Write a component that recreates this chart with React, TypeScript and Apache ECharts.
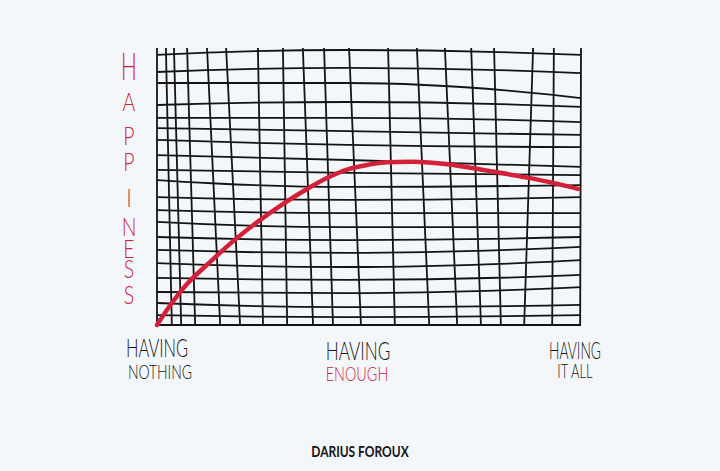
import React, { useEffect, useRef } from "react";
import * as echarts from "echarts";

// Hand-drawn grid: horizontal lines (y at left edge, middle, right edge)
const hLeft = [98.2, 92.0, 88.0, 80.0, 75.3, 71.6, 67.3, 61.8, 56.4, 52.7, 46.5, 41.8, 37.5, 32.0, 27.3, 22.5, 17.1, 12.0, 8.0, 3.6, 0];
const hMid = [100, 93.5, 88.0, 81.1, 75.3, 70.5, 65.5, 60.0, 55.3, 50.2, 45.5, 40.7, 35.6, 30.9, 26.2, 21.1, 16.4, 11.6, 6.5, 2.9, 0];
const hRight = [98.2, 91.6, 82.5, 79.3, 73.8, 69.1, 64.7, 57.5, 54.5, 50.9, 46.5, 40.7, 35.6, 32.0, 28.4, 23.6, 18.2, 13.8, 7.3, 3.6, 0];
const hXs = [0, 45, 100];

// Vertical lines (x at top, x at bottom)
const vTop = [0, 2.1, 4.0, 7.1, 11.8, 16.3, 23.8, 29.7, 34.4, 39.4, 45.3, 54.5, 61.3, 67.9, 74.1, 79.5, 88.7, 93.6, 100];
const vBottom = [0, 3.5, 5.7, 9.0, 14.9, 19.6, 25.0, 30.7, 36.8, 41.5, 48.1, 56.1, 64.2, 70.8, 76.4, 81.1, 86.6, 93.2, 99.8];
const vTopY = 100.7;

// Happiness curve
const curveX = [0, 3.5, 7.3, 13.0, 17.9, 23.8, 29.5, 34.9, 40.3, 45.0, 50.2, 54.2, 60.4, 67.5, 73.8, 79.2, 87.3, 93.4, 99.3];
const curveY = [0, 8.0, 15.3, 23.6, 30.4, 37.6, 43.8, 49.0, 53.6, 56.6, 58.4, 59.2, 59.4, 58.6, 57.2, 55.8, 53.6, 51.7, 49.5];

// Texts
const yTitleLetters = ["H", "A", "P", "P", "I", "N", "E", "S", "S"];
const yTitleCenters = [66, 101, 135, 161, 197, 226, 248, 268, 294];
const credit = "DARIUS FOROUX";

const BG = "#f4f7fa";
const RED = "#d3213a";
const INK = "#141414";
const FONT = "Lato, 'Open Sans', sans-serif";

export default function App() {
  const ref = useRef<HTMLDivElement>(null);

  useEffect(() => {
    document.body.style.margin = "0";
    document.body.style.background = BG;
    if (!ref.current) return;
    const chart = echarts.init(ref.current, null, { renderer: "svg" });

    const series: any[] = [];
    hLeft.forEach((_, i) => {
      series.push({
        type: "line",
        data: [
          [hXs[0], hLeft[i]],
          [hXs[1], hMid[i]],
          [hXs[2], hRight[i]],
        ],
        smooth: 0.5,
        symbol: "none",
        clip: false,
        silent: true,
        lineStyle: { color: INK, width: 1.8 },
        z: 2,
      });
    });
    vTop.forEach((_, i) => {
      series.push({
        type: "line",
        data: [
          [vTop[i], vTopY],
          [vBottom[i], 0],
        ],
        symbol: "none",
        clip: false,
        silent: true,
        lineStyle: { color: INK, width: 1.8 },
        z: 2,
      });
    });
    series.push({
      type: "line",
      data: curveX.map((x, i) => [x, curveY[i]]),
      smooth: 0.35,
      symbol: "none",
      clip: false,
      silent: true,
      lineStyle: { color: RED, width: 4.5, cap: "round", join: "round" },
      z: 5,
    });

    const text = (
      t: string,
      x: number,
      y: number,
      size: number,
      fill: string,
      scaleX: number,
      weight: any = 400
    ) => ({
      type: "text",
      x,
      y,
      scaleX,
      silent: true,
      style: {
        text: t,
        fill,
        fontSize: size,
        fontFamily: FONT,
        fontWeight: weight,
        align: "center",
        verticalAlign: "middle",
        textAlign: "center",
        textVerticalAlign: "middle",
      },
    });

    const graphic: any[] = [];
    yTitleLetters.forEach((l, i) => {
      const big = i === 0;
      graphic.push(text(l, 129, yTitleCenters[i], big ? 38 : 26, RED, big ? 0.55 : 0.75, 300));
    });
    graphic.push(text("HAVING", 157, 348, 25, INK, 0.66, 300));
    graphic.push(text("NOTHING", 160, 371, 20, INK, 0.7, 300));
    graphic.push(text("HAVING", 358, 350, 26, INK, 0.66, 300));
    graphic.push(text("ENOUGH", 357, 374, 20, RED, 0.72, 300));
    graphic.push(text("HAVING", 575, 350, 23, INK, 0.6, 300));
    graphic.push(text("IT ALL", 575, 370, 20, INK, 0.65, 300));
    graphic.push(text(credit, 360, 451, 16, INK, 0.75, 700));

    chart.setOption({
      animation: false,
      backgroundColor: BG,
      grid: { left: 157, right: 139, top: 50, bottom: 146 },
      xAxis: {
        type: "value",
        min: 0,
        max: 100,
        axisLine: { show: false },
        axisTick: { show: false },
        axisLabel: { show: false },
        splitLine: { show: false },
      },
      yAxis: {
        type: "value",
        min: 0,
        max: 100,
        axisLine: { show: false },
        axisTick: { show: false },
        axisLabel: { show: false },
        splitLine: { show: false },
      },
      series,
      graphic,
    });

    return () => chart.dispose();
  }, []);

  return <div ref={ref} style={{ width: 720, height: 471, background: BG }} />;
}
